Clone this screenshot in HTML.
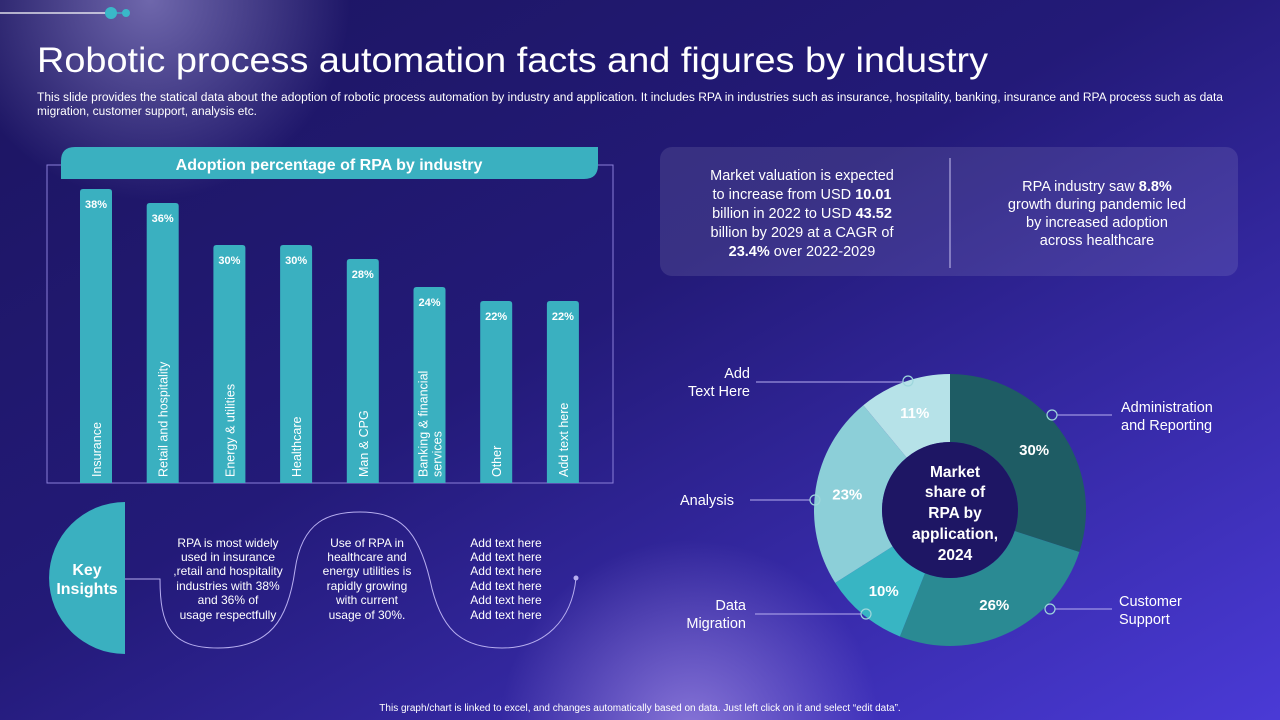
<!DOCTYPE html>
<html><head><meta charset="utf-8"><style>
html,body{margin:0;padding:0;width:1280px;height:720px;overflow:hidden;background:#1e1668;}
svg{display:block;font-family:"Liberation Sans",sans-serif;}
</style></head><body>
<svg id="s" width="1280" height="720" viewBox="0 0 1280 720">
<defs>
<linearGradient id="bg" x1="0" y1="0" x2="1" y2="1">
<stop offset="0" stop-color="#1c1560"/><stop offset="0.45" stop-color="#231a78"/><stop offset="1" stop-color="#4a3ad6"/>
</linearGradient>
<radialGradient id="g1" cx="150" cy="0" r="200" gradientUnits="userSpaceOnUse">
<stop offset="0" stop-color="#8a82c4" stop-opacity="0.75"/><stop offset="1" stop-color="#8a82c4" stop-opacity="0"/>
</radialGradient>
<radialGradient id="g2" cx="690" cy="730" r="190" gradientUnits="userSpaceOnUse">
<stop offset="0" stop-color="#a08ce4" stop-opacity="0.75"/><stop offset="1" stop-color="#9a86e0" stop-opacity="0"/>
</radialGradient>
</defs>
<rect width="1280" height="720" fill="url(#bg)"/>
<rect width="1280" height="720" fill="url(#g1)"/>
<rect width="1280" height="720" fill="url(#g2)"/>
<g>
<line x1="0" y1="13" x2="106" y2="13" stroke="#fff" stroke-width="1.2"/>
<line x1="106" y1="13" x2="126" y2="13" stroke="#3ab8c8" stroke-width="1.2"/>
<circle cx="111" cy="13" r="6" fill="#3ab8c8"/><circle cx="126" cy="13" r="4" fill="#3ab8c8"/>
</g>
<text x="37" y="72" font-size="35" fill="#fff" textLength="951" lengthAdjust="spacingAndGlyphs">Robotic process automation facts and figures by industry</text>
<g font-size="11.5" fill="#fff">
<text x="37" y="101" textLength="1186" lengthAdjust="spacingAndGlyphs">This slide provides the statical data about the adoption of robotic process automation by industry and application. It includes RPA in industries such as insurance, hospitality, banking, insurance and RPA process such as data</text>
<text x="37" y="115" textLength="220" lengthAdjust="spacingAndGlyphs">migration, customer support, analysis etc.</text>
</g>

<rect x="47" y="165" width="566" height="318" fill="none" stroke="#8a7fd8" stroke-width="1"/>
<path d="M75,147 H598 V165 Q598,179 584,179 H61 V161 Q61,147 75,147 Z" fill="#3ab0c0"/>
<text x="329" y="170" font-size="16" font-weight="bold" fill="#fff" text-anchor="middle">Adoption percentage of RPA by industry</text>
<g id="bars"></g>

<rect x="660" y="147" width="578" height="129" rx="12" fill="#ffffff" fill-opacity="0.1"/>
<line x1="950" y1="158" x2="950" y2="268" stroke="#c9c2f0" stroke-width="1"/>
<g font-size="14.5" fill="#fff" text-anchor="middle">
<text x="802" y="180">Market valuation is expected</text>
<text x="802" y="199">to increase from USD <tspan font-weight="bold">10.01</tspan></text>
<text x="802" y="218">billion in 2022 to USD <tspan font-weight="bold">43.52</tspan></text>
<text x="802" y="237">billion by 2029 at a CAGR of</text>
<text x="802" y="256"><tspan font-weight="bold">23.4%</tspan> over 2022-2029</text>
</g>
<g font-size="14.5" fill="#fff" text-anchor="middle">
<text x="1097" y="191">RPA industry saw <tspan font-weight="bold">8.8%</tspan></text>
<text x="1097" y="209">growth during pandemic led</text>
<text x="1097" y="227">by increased adoption</text>
<text x="1097" y="245">across healthcare</text>
</g>

<path d="M125,502 V654 A76,76 0 0 1 125,502 Z" fill="#3ab0c0"/>
<text x="87" y="575" font-size="16" font-weight="bold" fill="#fff" text-anchor="middle">Key</text>
<text x="87" y="594" font-size="16" font-weight="bold" fill="#fff" text-anchor="middle">Insights</text>
<path d="M125,579 H160 C160,625 170,648 218,648 C270,648 288,620 295,570 C302,520 330,512 360,512 C400,512 418,530 430,580 C440,628 460,648 502,648 C545,648 572,620 576,578" fill="none" stroke="#b7aef0" stroke-width="1"/>
<circle cx="576" cy="578" r="2.5" fill="#b7aef0"/>
<g font-size="12" fill="#fff" text-anchor="middle">
<text x="228" y="547">RPA is most widely</text><text x="228" y="561">used in insurance</text><text x="228" y="575">,retail and hospitality</text><text x="228" y="590">industries with 38%</text><text x="228" y="604">and 36% of</text><text x="228" y="619">usage respectfully</text>
</g>
<g font-size="12" fill="#fff" text-anchor="middle">
<text x="367" y="547">Use of RPA in</text><text x="367" y="561">healthcare and</text><text x="367" y="575">energy utilities is</text><text x="367" y="590">rapidly growing</text><text x="367" y="604">with current</text><text x="367" y="619">usage of 30%.</text>
</g>
<g font-size="12" fill="#fff" text-anchor="middle">
<text x="506" y="547">Add text here</text><text x="506" y="561">Add text here</text><text x="506" y="575">Add text here</text><text x="506" y="590">Add text here</text><text x="506" y="604">Add text here</text><text x="506" y="619">Add text here</text>
</g>

<g id="donut"></g>
<g font-size="15.5" font-weight="bold" fill="#fff" text-anchor="middle">
<text x="955" y="477">Market</text><text x="955" y="497">share of</text><text x="955" y="518">RPA by</text><text x="955" y="539">application,</text><text x="955" y="560">2024</text>
</g>
<g stroke="#b7aef0" stroke-width="1" fill="none">
<line x1="1057" y1="415" x2="1112" y2="415"/><line x1="1055" y1="609" x2="1112" y2="609"/>
<line x1="755" y1="614" x2="861" y2="614"/><line x1="750" y1="500" x2="810" y2="500"/><line x1="756" y1="382" x2="903" y2="382"/>
</g>
<g stroke="#9ed7dc" stroke-width="1.2" fill="none">
<circle cx="1052" cy="415" r="5"/><circle cx="1050" cy="609" r="5"/><circle cx="866" cy="614" r="5"/><circle cx="815" cy="500" r="5"/><circle cx="908" cy="381" r="5"/>
</g>
<g font-size="14.5" fill="#fff">
<text x="1121" y="412">Administration</text><text x="1121" y="430">and Reporting</text>
<text x="1119" y="606">Customer</text><text x="1119" y="624">Support</text>
<text x="746" y="610" text-anchor="end">Data</text><text x="746" y="628" text-anchor="end">Migration</text>
<text x="734" y="505" text-anchor="end">Analysis</text>
<text x="750" y="378" text-anchor="end">Add</text><text x="750" y="396" text-anchor="end">Text Here</text>
</g>

<text x="640" y="711" font-size="10" fill="#fff" text-anchor="middle">This graph/chart is linked to excel, and changes automatically based on data. Just left click on it and select “edit data”.</text>
</svg>
<script>
const industries = ["Insurance","Retail and hospitality","Energy & utilities","Healthcare","Man & CPG","Banking & financial|services","Other","Add text here"];
const adoption = [38,36,30,30,28,24,22,22];
const appCategories = ["Administration and Reporting","Customer Support","Data Migration","Analysis","Add Text Here"];
const appShares = [30,26,10,23,11];

const NS="http://www.w3.org/2000/svg";
function mk(tag,attrs,parent){const e=document.createElementNS(NS,tag);for(const k in attrs)e.setAttribute(k,attrs[k]);parent.appendChild(e);return e;}
const x0=80, step=66.7, bw=32, baseY=483;
function yScale(v){return 455-7*v;}
const bars=document.getElementById('bars');
industries.forEach((name,i)=>{
  const x=x0+i*step, top=yScale(adoption[i]);
  const p=mk('path',{d:`M${x},${baseY} V${top+3} Q${x},${top} ${x+3},${top} H${x+bw-3} Q${x+bw},${top} ${x+bw},${top+3} V${baseY} Z`,fill:'#3ab0c0'},bars);
  
  
  const t=mk('text',{x:x+bw/2,y:top+19,'font-size':11,'font-weight':'bold',fill:'#fff','text-anchor':'middle'},bars);
  t.textContent=adoption[i]+'%';
  
  
  const lines=name.split('|');
  lines.forEach((ln,j)=>{
    const cx=x+bw/2+5-(lines.length-1)*7+j*14;
    const l=mk('text',{x:cx,y:477,'font-size':12.5,fill:'#fff',transform:`rotate(-90 ${cx} 477)`},bars);
    l.textContent=ln;
    
    
  });
});
const cx=950, cy=510, R=136, r=68;
const colors=['#1e5c64','#2a8a93','#38b5c3','#8ccfd8','#b6e2e8'];
const total=appShares.reduce((a,b)=>a+b,0);
const donut=document.getElementById('donut');
function pt(a,rad){return [cx+rad*Math.sin(a), cy-rad*Math.cos(a)];}
let acc=0;
appShares.forEach((v,i)=>{
  const a0=acc/total*2*Math.PI, a1=(acc+v)/total*2*Math.PI; acc+=v;
  const [x1,y1]=pt(a0,R),[x2,y2]=pt(a1,R),[x3,y3]=pt(a1,r),[x4,y4]=pt(a0,r);
  const lg=(a1-a0)>Math.PI?1:0;
  const s=mk('path',{d:`M${x1},${y1} A${R},${R} 0 ${lg} 1 ${x2},${y2} L${x3},${y3} A${r},${r} 0 ${lg} 0 ${x4},${y4} Z`,fill:colors[i]},donut);
  
  
  const am=(a0+a1)/2, [lx,ly]=pt(am,(R+r)/2+2);
  const t=mk('text',{x:lx,y:ly+6,'font-size':15,'font-weight':'bold',fill:'#fff','text-anchor':'middle'},donut);
  t.textContent=v+'%';
  
  
});
mk('circle',{cx:cx,cy:cy,r:r,fill:'#1e1664'},donut);
</script>
</body></html>
